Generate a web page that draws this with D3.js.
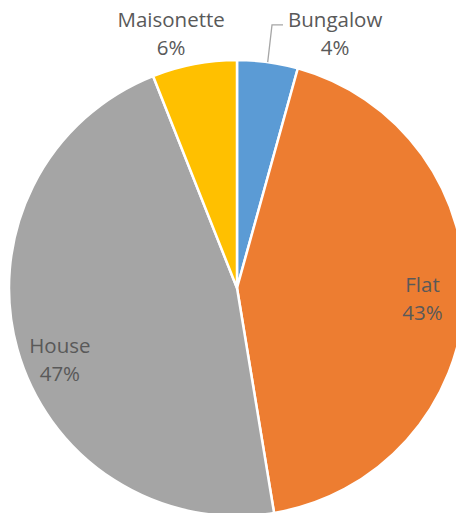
<!DOCTYPE html>
<html>
<head>
<meta charset="utf-8">
<script src="https://cdn.jsdelivr.net/npm/d3@7"></script>
<style>
  html, body { margin: 0; padding: 0; background: #fff; }
  svg { display: block; }
</style>
</head>
<body>
<svg id="chart" width="456" height="513"></svg>
<script>
// ---- data ----
const categories = ["Bungalow", "Flat", "House", "Maisonette"];
const values = [4.3, 43.1, 46.6, 6.0];
const colors = ["#5B9BD5", "#ED7D31", "#A5A5A5", "#FFC000"];

// ---- label layout (angle in degrees clockwise from 12 o'clock, radius as fraction of pie radius) ----
const labelAngles = [21.1, 93.3, 248, 345.5];
const labelRadii = [1.196, 0.815, 0.838, 1.153];
const leaderLines = [true, false, false, false];

const W = 456, H = 513;
const cx = 237, cy = 288, R = 228;
const fontSize = 20.5, lineGap = 28, capH = 14.5;

const svg = d3.select("#chart");
const g = svg.append("g").attr("transform", `translate(${cx},${cy})`);

const data = categories.map((c, i) => ({ name: c, value: values[i], color: colors[i], i }));
const total = d3.sum(values);

const pie = d3.pie().value(d => d.value).sort(null);
const arc = d3.arc().innerRadius(0).outerRadius(R);
const arcs = pie(data);

g.selectAll("path.slice")
  .data(arcs)
  .join("path")
  .attr("class", "slice")
  .attr("d", arc)
  .attr("fill", d => d.data.color)
  .attr("stroke", "#fff")
  .attr("stroke-width", 2.5)
  .attr("stroke-linejoin", "round");

const pct = d3.format(".0%");
const rad = a => a * Math.PI / 180;

arcs.forEach(a => {
  const i = a.data.i;
  const ang = rad(labelAngles[i]);
  const r = labelRadii[i] * R;
  const lx = r * Math.sin(ang);
  const ly = -r * Math.cos(ang);
  const b1 = ly - (lineGap + capH) / 2 + capH;
  const t = g.append("text")
    .attr("text-anchor", "middle")
    .attr("font-family", "'Open Sans', 'Liberation Sans', sans-serif")
    .attr("font-size", fontSize)
    .attr("fill", "#595959");
  t.append("tspan").attr("x", lx).attr("y", b1).text(a.data.name);
  t.append("tspan").attr("x", lx).attr("y", b1 + lineGap).text(pct(a.data.value / total));

  if (leaderLines[i]) {
    const bb = t.node().getBBox();
    const mid = (a.startAngle + a.endAngle) / 2;
    const sx = R * Math.sin(mid), sy = -R * Math.cos(mid);
    const ex = bb.x - 5, ey = b1 - 2;
    const kx = ex - 11;
    g.append("path")
      .attr("d", `M${sx},${sy}L${kx},${ey}L${ex},${ey}`)
      .attr("fill", "none")
      .attr("stroke", "#A6A6A6")
      .attr("stroke-width", 1.3);
  }
});
</script>
</body>
</html>
